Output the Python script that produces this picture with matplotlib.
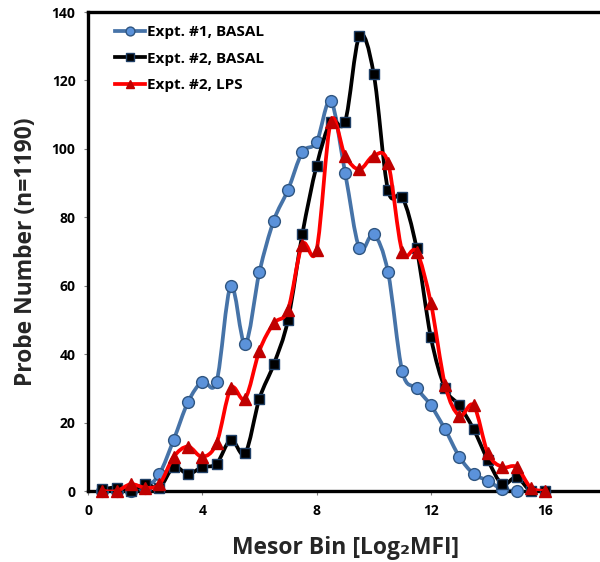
import numpy as np
import matplotlib
matplotlib.use("Agg")
import matplotlib.pyplot as plt
from matplotlib.path import Path
from matplotlib.patches import PathPatch
from matplotlib.lines import Line2D

plt.rcParams['font.family'] = ['Open Sans', 'DejaVu Sans']

# mesor bins (log2 MFI)
bins1 = [0.5, 1.0, 1.5, 2.0, 2.5, 3.0, 3.5, 4.0, 4.5, 5.0, 5.5, 6.0, 6.5, 7.0, 7.5, 8.0,
         8.5, 9.0, 9.5, 10.0, 10.5, 11.0, 11.5, 12.0, 12.5, 13.0, 13.5, 14.0, 14.5, 15.0]
expt1_basal = [0, 0, 0, 1, 5, 15, 26, 32, 32, 60, 43, 64, 79, 88, 99, 102,
               114, 93, 71, 75, 64, 35, 30, 25, 18, 10, 5, 3, 0.5, 0]

bins2 = [0.5, 1.0, 1.5, 2.0, 2.5, 3.0, 3.5, 4.0, 4.5, 5.0, 5.5, 6.0, 6.5, 7.0, 7.5, 8.0,
         8.5, 9.0, 9.5, 10.0, 10.5, 11.0, 11.5, 12.0, 12.5, 13.0, 13.5, 14.0, 14.5, 15.0,
         15.5, 16.0]
expt2_basal = [0.5, 1, 0, 2, 1, 7, 5, 7, 8, 15, 11, 27, 37, 50, 75, 95,
               108, 108, 133, 122, 88, 86, 71, 45, 30, 25, 18, 9, 2, 4, 0, 0]
expt2_lps = [0, 0, 2, 1, 2, 10, 13, 10, 14, 30, 27, 41, 49, 53, 72, 70.5,
             108, 98, 94, 98, 96, 70, 70, 55, 31, 22, 25, 11, 7, 7, 1, 0]

labels = ["Expt. #1, BASAL", "Expt. #2, BASAL", "Expt. #2, LPS"]


def smooth_path(x, y):
    # Excel-like smoothed line: cubic bezier through the points
    x = np.asarray(x, float)
    y = np.asarray(y, float)
    n = len(x)
    verts = [(x[0], y[0])]
    codes = [Path.MOVETO]
    for i in range(n - 1):
        p0 = np.array([x[max(i - 1, 0)], y[max(i - 1, 0)]])
        p1 = np.array([x[i], y[i]])
        p2 = np.array([x[i + 1], y[i + 1]])
        p3 = np.array([x[min(i + 2, n - 1)], y[min(i + 2, n - 1)]])
        c1 = p1 + (p2 - p0) / 6.0
        c2 = p2 - (p3 - p1) / 6.0
        verts += [tuple(c1), tuple(c2), tuple(p2)]
        codes += [Path.CURVE4] * 3
    return Path(verts, codes)


fig = plt.figure(figsize=(6, 5.62), dpi=100)
ax = fig.add_axes([0.1467, 0.1263, 0.857, 0.8523])

series = [
    (bins1, expt1_basal, "#4673A8", "o", "#5B92DA", "#2F5580", 8.5),
    (bins2, expt2_basal, "#000000", "s", "#000000", "#1F3F66", 7.5),
    (bins2, expt2_lps, "#FF0000", "^", "#C00000", "#C00000", 8.5),
]

handles = []
for k, (xs, ys, lc, mk, fc, ec, ms) in enumerate(series):
    patch = PathPatch(smooth_path(xs, ys), facecolor="none", edgecolor=lc,
                      lw=2.7, zorder=2 + 2 * k, capstyle="round", joinstyle="round")
    ax.add_patch(patch)
    ax.plot(xs, ys, linestyle="none", marker=mk, markersize=ms,
            markerfacecolor=fc, markeredgecolor=ec, markeredgewidth=1.0,
            zorder=3 + 2 * k, clip_on=False)
    handles.append(Line2D([], [], color=lc, lw=2.7, marker=mk, markersize=ms * 0.75,
                          markerfacecolor=fc, markeredgecolor=ec))

ax.set_xlim(0, 18)
ax.set_ylim(0, 140)
ax.set_xticks([0, 4, 8, 12, 16])
ax.set_yticks(range(0, 141, 20))
ax.tick_params(axis="both", direction="out", length=3, width=0.8, color="#808080",
               labelsize=10, pad=6)
for lab in ax.get_xticklabels() + ax.get_yticklabels():
    lab.set_fontweight("bold")

for side in ["left", "bottom", "top"]:
    ax.spines[side].set_linewidth(2.4)
    ax.spines[side].set_color("black")
ax.spines["right"].set_visible(False)

ax.set_xlabel("Mesor Bin [Log\u2082MFI]", fontsize=16.5, fontweight="bold",
              color="#262626", labelpad=13)
ax.set_ylabel("Probe Number (n=1190)", fontsize=16.5, fontweight="bold",
              color="#262626", labelpad=10)

leg = ax.legend(handles, labels, loc="upper left", bbox_to_anchor=(0.052, 0.972),
                frameon=False, handlelength=2.0, handletextpad=0.1,
                labelspacing=0.8, borderaxespad=0.0, borderpad=0.0,
                prop={"weight": "bold", "size": 11})

fig.savefig("out.png", dpi=100)
